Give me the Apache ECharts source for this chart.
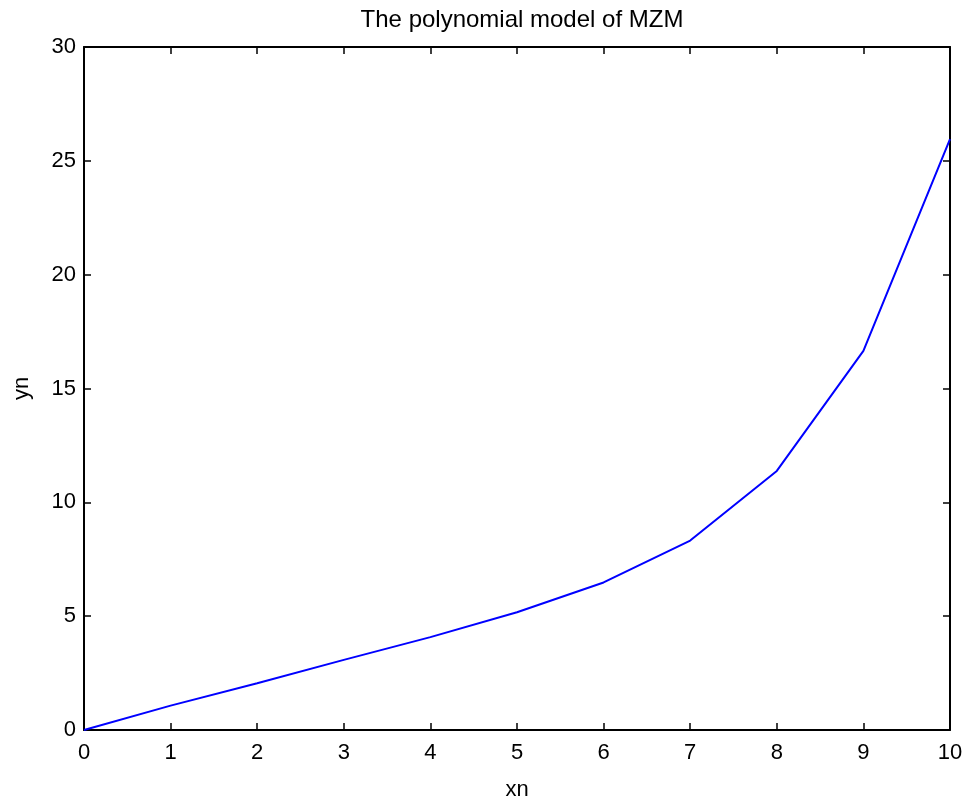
<!DOCTYPE html>
<html>
<head>
<meta charset="utf-8">
<script src="https://cdn.jsdelivr.net/npm/echarts@6/dist/echarts.min.js"></script>
<style>
  html, body { margin: 0; padding: 0; background: #fff; }
  #main { width: 969px; height: 802px; }
</style>
</head>
<body>
<div id="main"></div>
<script>
// values
var xn = [0, 1, 2, 3, 4, 5, 6, 7, 8, 9, 10];
var yn = [0, 1.07, 2.05, 3.08, 4.08, 5.17, 6.48, 8.32, 11.38, 16.65, 25.95];
var titleText = 'The polynomial model of MZM';

var points = xn.map(function (x, i) { return [x, yn[i]]; });

var font = 'Liberation Sans, Arial, sans-serif';
var frame = { show: true, onZero: false, lineStyle: { color: '#000', width: 2 } };
var ticks = { show: true, inside: true, length: 7, lineStyle: { color: '#000', width: 1.5 } };

var myChart = echarts.init(document.getElementById('main'));
var option = {
  backgroundColor: '#fff',
  animation: false,
  title: {
    text: titleText,
    left: 517,
    top: 3,
    textAlign: 'center',
    textStyle: { fontFamily: font, fontSize: 24, fontWeight: 'normal', color: '#000' }
  },
  grid: { left: 84, right: 19, top: 47, bottom: 72, outerBoundsMode: 'none' },
  xAxis: [
    {
      type: 'value', min: 0, max: 10, interval: 1, position: 'bottom',
      name: 'xn', nameLocation: 'middle', nameGap: 49,
      nameTextStyle: { fontFamily: font, fontSize: 22, color: '#000' },
      axisLine: frame, axisTick: ticks, splitLine: { show: false },
      axisLabel: { fontFamily: font, fontSize: 22, color: '#000', margin: 12 }
    },
    {
      type: 'value', min: 0, max: 10, interval: 1, position: 'top',
      axisLine: frame, axisTick: ticks, splitLine: { show: false },
      axisLabel: { show: false }
    }
  ],
  yAxis: [
    {
      type: 'value', min: 0, max: 30, interval: 5, position: 'left',
      name: 'yn', nameLocation: 'middle', nameGap: 51,
      nameTextStyle: { fontFamily: font, fontSize: 22, color: '#000' },
      axisLine: frame, axisTick: ticks, splitLine: { show: false },
      axisLabel: { fontFamily: font, fontSize: 22, color: '#000', margin: 8 }
    },
    {
      type: 'value', min: 0, max: 30, interval: 5, position: 'right',
      axisLine: frame, axisTick: ticks, splitLine: { show: false },
      axisLabel: { show: false }
    }
  ],
  series: [
    {
      type: 'line',
      data: points,
      showSymbol: false,
      lineStyle: { color: '#0000ff', width: 2 },
      itemStyle: { color: '#0000ff' }
    }
  ]
};
option && myChart.setOption(option);
</script>
</body>
</html>
